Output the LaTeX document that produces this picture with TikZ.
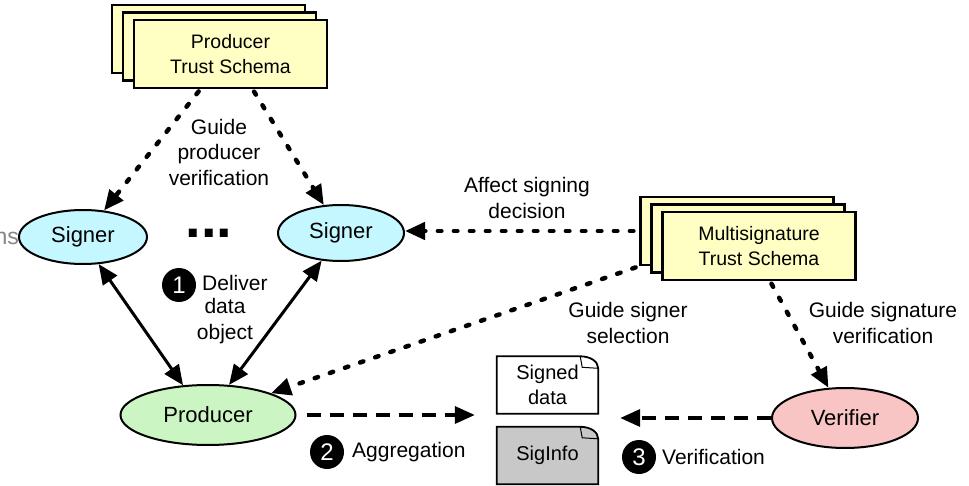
\documentclass[tikz,border=0pt]{standalone}
\usepackage{fontspec}
\setmainfont{Liberation Sans}
\usetikzlibrary{shapes.geometric,arrows.meta,backgrounds,calc}
\definecolor{schemafill}{HTML}{FFFFC4}
\definecolor{signerfill}{HTML}{C4F7FF}
\definecolor{producerfill}{HTML}{CCF5C4}
\definecolor{verifierfill}{HTML}{F8C4C4}
\definecolor{infofill}{HTML}{C8C8C8}
\definecolor{stubgray}{HTML}{858585}

\begin{document}
\begin{tikzpicture}[x=1pt,y=-1pt,
  schema/.style={draw, line width=2.2pt, fill=schemafill, minimum width=193pt,
    minimum height=68pt, inner sep=0pt, align=center,
    font=\fontsize{19.5}{25}\selectfont},
  actor/.style={ellipse, draw, line width=2pt, inner sep=0pt,
    font=\fontsize{22}{26}\selectfont},
  doc/.style={minimum width=101pt, minimum height=57pt, inner sep=0pt,
    align=center, font=\fontsize{20}{25}\selectfont},
  docshape/.style={line width=1.8pt},
  lbl/.style={align=center, font=\fontsize{21}{25.5}\selectfont, inner sep=0pt},
  badge/.style={circle, fill=black, text=white, minimum size=34pt, inner sep=0pt,
    font=\fontsize{24}{24}\selectfont},
  headtip/.style={-{Triangle[length=20pt,width=17pt]}},
  dotarrow/.style={headtip, line width=4.5pt, line cap=round,
    dash pattern=on 3.5pt off 12.5pt},
  solidarrow/.style={{Triangle[length=20pt,width=17pt]}-{Triangle[length=20pt,width=17pt]},
    line width=3pt},
  dasharrow/.style={headtip, line width=3.5pt, dash pattern=on 14pt off 9pt}
]
\useasboundingbox (0,0) rectangle (969,486);

% partly visible text at the left edge
\node[anchor=east, text=stubgray, inner sep=0pt, font=\fontsize{23}{26}\selectfont] (stub) at (19,238) {ns};

% producer trust schema (stacked sheets)
\node[schema] (ptsA) at (208.5,39) {};
\node[schema] (ptsB) at (219.5,46.5) {};
\node[schema] (pts) at (230.5,54) {Producer\\Trust Schema};

% multisignature trust schema (stacked sheets)
\node[schema] (msA) at (737,231) {};
\node[schema] (msB) at (748,238.5) {};
\node[schema] (ms) at (759,246) {Multisignature\\Trust Schema};

% signers, producer, verifier
\node[actor, fill=signerfill, minimum width=128pt, minimum height=54pt] (sl) at (83,237) {Signer};
\node[actor, fill=signerfill, minimum width=126pt, minimum height=56pt] (sr) at (341,233) {Signer};
\node[inner sep=0pt, font=\bfseries\fontsize{56}{56}\selectfont] (dots) at (209,233) {...};
\node[actor, fill=producerfill, minimum width=175pt, minimum height=60pt] (prod) at (208,415) {Producer};
\node[actor, fill=verifierfill, minimum width=146pt, minimum height=60pt] (vf) at (845,418) {Verifier};

% documents with folded corner
\node[doc] (sd) at (547.5,385) {Signed\\data};
\node[doc] (si) at (547.5,455.5) {SigInfo};
\begin{scope}[on background layer]
  \foreach \d/\c in {sd/white, si/infofill}{
    \draw[docshape, fill=\c] (\d.north west) -- ($(\d.north east)+(-18,0)$)
      .. controls ($(\d.north east)+(-8,0)$) and ($(\d.north east)+(0,5)$) .. ($(\d.north east)+(0,12)$)
      -- (\d.south east) -- (\d.south west) -- cycle;
    \draw[line width=1pt] ($(\d.north east)+(-18,0)$) -- ($(\d.north east)+(-16,11)$) -- ($(\d.north east)+(0,12)$);
  }
\end{scope}

% guidance arrows
\draw[dotarrow, shorten <=3pt] ([xshift=-30pt]pts.south) -- (sl);
\draw[dotarrow, shorten <=3pt] ([xshift=22pt]pts.south) -- (sr);
\draw[dotarrow, shorten <=6pt] (msA.west) -- (msA.west -| sr.east);
\draw[dotarrow, shorten <=4pt] (msA.south west) -- (prod);
\draw[dotarrow, shorten <=3pt] ([xshift=11pt]ms.south) -- (vf);

% data object delivery
\draw[solidarrow] (sl.-60) -- (prod.130);
\draw[solidarrow] (sr.-125) -- (prod.55);

% aggregation and verification
\draw[dasharrow, shorten <=10pt, shorten >=22pt] (prod.east) -- (prod.east -| sd.west);
\draw[dasharrow, shorten >=22pt] (vf.west) -- (vf.west -| sd.east);

% labels
\node[lbl] (lguide) at (219,152) {Guide\\producer\\verification};
\node[lbl] (laffect) at (527,198) {Affect signing\\decision};
\node[lbl] (lselect) at (628,323) {Guide signer\\selection};
\node[lbl] (lsigver) at (883,323) {Guide signature\\verification};

\node[badge] (b1) at (179,285) {1};
\node[lbl, anchor=west] (ldeliver) at (202,283) {Deliver};
\node[lbl] (lobject) at (225,321) {data\\object};

\node[badge] (b2) at (327,452) {2};
\node[lbl, anchor=west] (lagg) at (352,452) {Aggregation};

\node[badge] (b3) at (639,457) {3};
\node[lbl, anchor=west] (lver) at (662,457) {Verification};
\end{tikzpicture}
\end{document}
